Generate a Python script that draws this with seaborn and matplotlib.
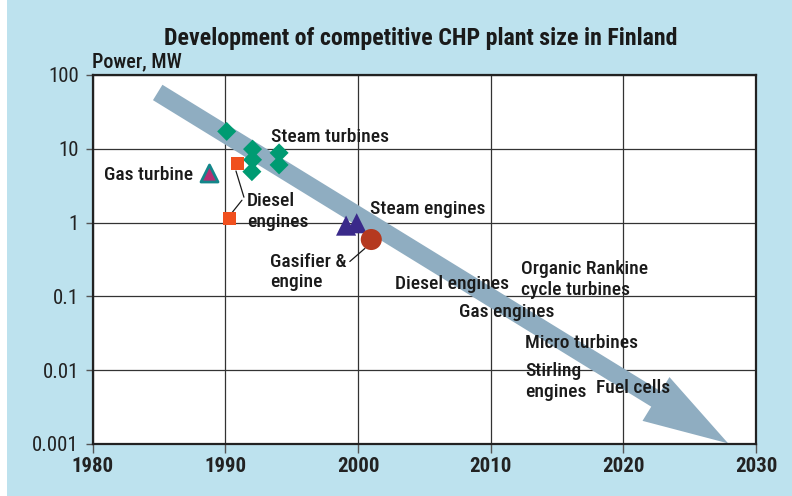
import seaborn as sns
import matplotlib.pyplot as plt
import pandas as pd

# data
steam_turb_year = [1990.1, 1992.05, 1992.05, 1992.0, 1994.05, 1994.05]
steam_turb_mw = [17.2, 9.9, 7.1, 4.9, 8.8, 6.05]
diesel_year = [1990.9, 1990.3]
diesel_mw = [6.4, 1.15]
gas_turb_year = [1988.75]
gas_turb_mw = [4.67]
steam_eng_year = [1999.1, 1999.9]
steam_eng_mw = [0.91, 0.98]
gasifier_year = [2001.0]
gasifier_mw = [0.59]

arrow_start = (1984.9, 58)
arrow_end = (2027.9, 0.00102)

labels = ["Steam turbines", "Gas turbine", "Diesel\nengines", "Steam engines",
          "Gasifier &\nengine", "Diesel engines", "Organic Rankine\ncycle turbines",
          "Gas engines", "Micro turbines", "Stirling\nengines", "Fuel cells"]
label_year = [1993.44, 1987.56, 1991.63, 2000.9, 1993.37, 2002.78, 2012.27,
              2007.6, 2012.57, 2012.57, 2017.92]
label_mw = [14.5, 4.41, 1.43, 1.52, 0.214, 0.149, 0.171, 0.0619, 0.0234, 0.0070, 0.00567]

x_ticks = [1980, 1990, 2000, 2010, 2020, 2030]
y_ticks = [0.001, 0.01, 0.1, 1, 10, 100]
y_ticklabels = ["0.001", "0.01", "0.1", "1", "10", "100"]

bg = "#bde2ee"
sns.set_theme(style="white")
plt.rcParams['font.family'] = ['Liberation Sans Narrow', 'Roboto Condensed',
                               'Open Sans Condensed', 'Liberation Sans', 'DejaVu Sans']

fig = plt.figure(figsize=(7.92, 4.96), dpi=100, facecolor=bg)
fig.patches.append(plt.Rectangle((0, 0), 7 / 792, 1, transform=fig.transFigure,
                                 facecolor="white", edgecolor="none", zorder=0))
ax = fig.add_axes([92.7 / 792, 1 - 444 / 496, (756 - 92.7) / 792, (444 - 75) / 496])
ax.set_facecolor("white")
ax.set_yscale("log")
ax.set_xlim(1980, 2030)
ax.set_ylim(0.001, 100)
ax.set_xticks(x_ticks)
ax.set_xticklabels([str(t) for t in x_ticks], fontsize=15, fontweight="bold", color="#222222")
ax.set_yticks(y_ticks)
ax.set_yticklabels(y_ticklabels, fontsize=15, color="#222222")
ax.minorticks_off()
ax.tick_params(axis="y", left=True, length=5, width=1, color="#555555", pad=5)
ax.tick_params(axis="x", bottom=True, length=6.5, width=1, color="#555555", pad=3)
ax.grid(True, color="#333333", linewidth=0.9)
ax.set_axisbelow(True)
for s in ax.spines.values():
    s.set_color("#222222")
    s.set_linewidth(1.6)

# big trend arrow
ax.annotate("", xy=arrow_end, xytext=arrow_start,
            arrowprops=dict(arrowstyle="simple,head_length=6.1,head_width=3.7,tail_width=1.3",
                            mutation_scale=10, fc="#8fadc1", ec="none",
                            shrinkA=0, shrinkB=0), zorder=2)

sns.scatterplot(x=steam_turb_year, y=steam_turb_mw, marker="D", s=94, color="#009b72",
                edgecolor="none", ax=ax, zorder=4)
sns.scatterplot(x=diesel_year, y=diesel_mw, marker="s", s=90, color="#f0501e",
                edgecolor="none", ax=ax, zorder=4)
sns.scatterplot(x=gas_turb_year, y=gas_turb_mw, marker="^", s=150, color="#b52f73",
                edgecolor="#13868a", linewidth=2, ax=ax, zorder=4)
sns.scatterplot(x=steam_eng_year, y=steam_eng_mw, marker="^", s=210, color="#3a2a8a",
                edgecolor="none", ax=ax, zorder=4)
sns.scatterplot(x=gasifier_year, y=gasifier_mw, marker="o", s=230, color="#b5391f",
                edgecolor="none", ax=ax, zorder=4)

# labels
for txt, lx, ly in zip(labels, label_year, label_mw):
    ha = "right" if txt == "Gas turbine" else "left"
    ax.text(lx, ly, txt, fontsize=14, fontweight="medium", ha=ha, va="center",
            color="#1a1a1a", linespacing=1.2, zorder=5)

# leader lines
line_kw = dict(arrowstyle="-", color="#1a1a1a", lw=0.9, shrinkA=0, shrinkB=0)
ax.annotate("", xy=(1990.8, 5.0), xytext=(1991.4, 2.21), arrowprops=line_kw)
ax.annotate("", xy=(1990.35, 1.26), xytext=(1991.25, 2.01), arrowprops=line_kw)
ax.annotate("", xy=(2000.52, 0.447), xytext=(1999.38, 0.297), arrowprops=line_kw)

fig.text(421 / 792, 1 - 38 / 496, "Development of competitive CHP plant size in Finland",
         ha="center", va="center", fontsize=17.2, fontweight="bold", color="#1a1a1a")
fig.text(92 / 792, 1 - 62 / 496, "Power, MW", ha="left", va="center",
         fontsize=14.5, fontweight="medium", color="#1a1a1a")

fig.savefig("out.png", dpi=100, facecolor=bg)
